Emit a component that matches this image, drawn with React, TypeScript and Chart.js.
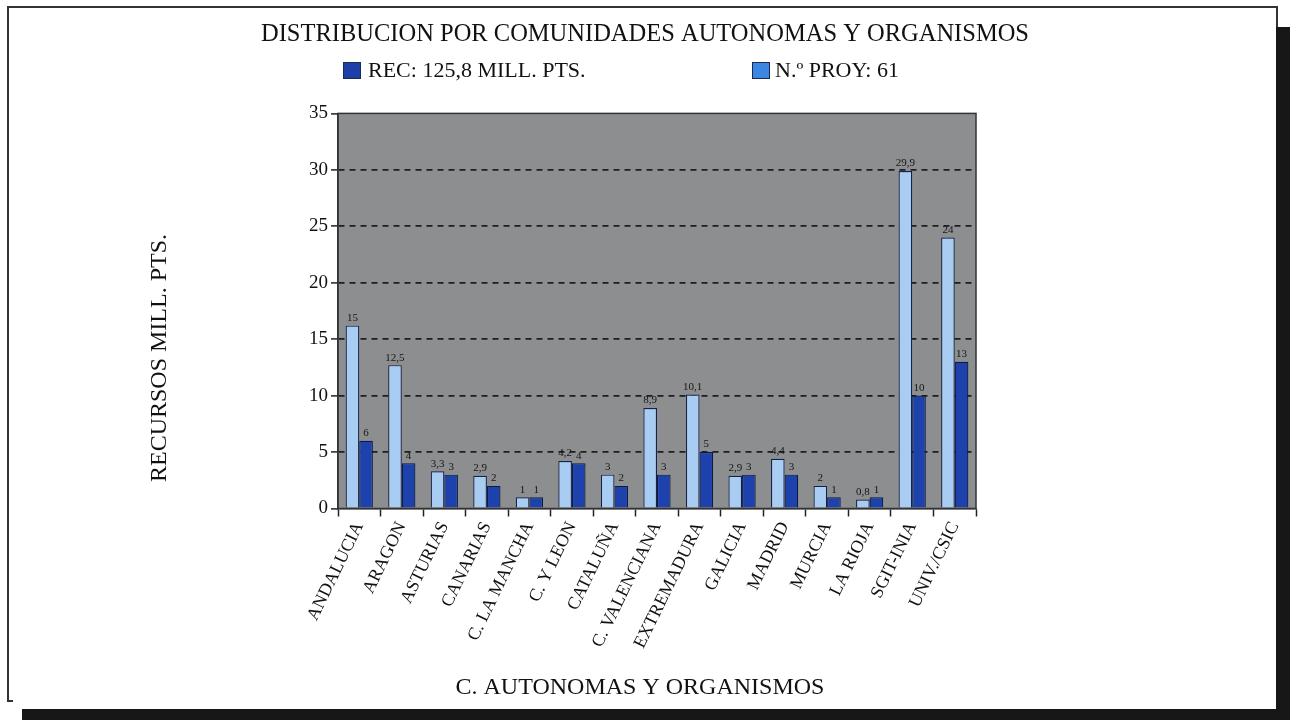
import React, { useEffect, useRef } from "react";
import { Chart, registerables } from "chart.js";

Chart.register(...registerables);

const TITLE = "DISTRIBUCION POR COMUNIDADES AUTONOMAS Y ORGANISMOS";
const Y_TITLE = "RECURSOS MILL. PTS.";
const X_TITLE = "C. AUTONOMAS Y ORGANISMOS";

const CATEGORIES = [
  "ANDALUCIA",
  "ARAGON",
  "ASTURIAS",
  "CANARIAS",
  "C. LA MANCHA",
  "C. Y LEON",
  "CATALUÑA",
  "C. VALENCIANA",
  "EXTREMADURA",
  "GALICIA",
  "MADRID",
  "MURCIA",
  "LA RIOJA",
  "SGIT-INIA",
  "UNIV./CSIC",
];

// light bars (left of each pair)
const PROY_LABEL = "N.º PROY: 61";
const PROY_VALUES = [16.2, 12.7, 3.3, 2.9, 1, 4.2, 3, 8.9, 10.1, 2.9, 4.4, 2, 0.8, 29.9, 24];
const PROY_TEXT = ["15", "12,5", "3,3", "2,9", "1", "4,2", "3", "8,9", "10,1", "2,9", "4,4", "2", "0,8", "29,9", "24"];

// dark bars (right of each pair)
const REC_LABEL = "REC: 125,8 MILL. PTS.";
const REC_VALUES = [6, 4, 3, 2, 1, 4, 2, 3, 5, 3, 3, 1, 1, 10, 13];
const REC_TEXT = ["6", "4", "3", "2", "1", "4", "2", "3", "5", "3", "3", "1", "1", "10", "13"];

const Y_TICKS = [0, 5, 10, 15, 20, 25, 30, 35];

const SERIF = "'Liberation Serif', 'DejaVu Serif', serif";

const plotBg = {
  id: "plotBg",
  beforeDraw(chart: any) {
    const { ctx, chartArea: a } = chart;
    ctx.save();
    ctx.fillStyle = "#8c8e8f";
    ctx.fillRect(a.left, a.top, a.right - a.left, a.bottom - a.top);
    ctx.restore();
  },
  afterDraw(chart: any) {
    const { ctx, chartArea: a } = chart;
    ctx.save();
    ctx.strokeStyle = "#333";
    ctx.lineWidth = 1.5;
    ctx.strokeRect(a.left, a.top, a.right - a.left, a.bottom - a.top);
    ctx.restore();
  },
};

const valueLabels = {
  id: "valueLabels",
  afterDatasetsDraw(chart: any) {
    const { ctx } = chart;
    const texts = [PROY_TEXT, REC_TEXT];
    ctx.save();
    ctx.font = `11px ${SERIF}`;
    ctx.fillStyle = "#161616";
    ctx.textAlign = "center";
    ctx.textBaseline = "bottom";
    chart.data.datasets.forEach((ds: any, di: number) => {
      const meta = chart.getDatasetMeta(di);
      meta.data.forEach((bar: any, i: number) => {
        ctx.fillText(texts[di][i], bar.x, bar.y - 2);
      });
    });
    ctx.restore();
  },
};

const customLegend = {
  id: "customLegend",
  afterDraw(chart: any) {
    const { ctx } = chart;
    const items = [
      { ds: 1, swatch: "#1d40a8", x: 343, tx: 368 },
      { ds: 0, swatch: "#3b86e0", x: 752, tx: 775 },
    ];
    ctx.save();
    ctx.font = `22px ${SERIF}`;
    ctx.textBaseline = "middle";
    ctx.textAlign = "left";
    items.forEach((it) => {
      ctx.fillStyle = it.swatch;
      ctx.fillRect(it.x, 62, 18, 17);
      ctx.strokeStyle = "#1a2a55";
      ctx.lineWidth = 1;
      ctx.strokeRect(it.x + 0.5, 62.5, 17, 16);
      ctx.fillStyle = "#111";
      ctx.fillText(chart.data.datasets[it.ds].label, it.tx, 71);
    });
    ctx.restore();
  },
};

const axisTitles = {
  id: "axisTitles",
  afterDraw(chart: any) {
    const { ctx } = chart;
    ctx.save();
    ctx.font = `24px ${SERIF}`;
    ctx.fillStyle = "#111";
    ctx.textAlign = "center";
    ctx.textBaseline = "middle";
    ctx.fillText(X_TITLE, 640, 688);
    ctx.translate(160, 358);
    ctx.rotate(-Math.PI / 2);
    ctx.fillText(Y_TITLE, 0, 0);
    ctx.restore();
  },
};

export default function App() {
  const ref = useRef<HTMLCanvasElement | null>(null);

  useEffect(() => {
    document.body.style.margin = "0";
    const canvas = ref.current!;
    const chart = new Chart(canvas, {
      type: "bar",
      data: {
        labels: CATEGORIES,
        datasets: [
          {
            label: PROY_LABEL,
            data: PROY_VALUES,
            backgroundColor: "#a9ccf2",
            borderColor: "#14224a",
            borderWidth: 1.2,
            categoryPercentage: 0.64,
            barPercentage: 1,
          },
          {
            label: REC_LABEL,
            data: REC_VALUES,
            backgroundColor: "#1d42ad",
            borderColor: "#0e1a40",
            borderWidth: 1.2,
            categoryPercentage: 0.64,
            barPercentage: 1,
          },
        ],
      },
      options: {
        responsive: false,
        animation: false,
        layout: { padding: { left: 0, right: 0, top: 0, bottom: 0 } },
        plugins: {
          legend: { display: false },
          tooltip: { enabled: false },
          title: {
            display: true,
            text: TITLE,
            color: "#111",
            font: { family: SERIF, size: 24.5, weight: "normal" },
            padding: { top: 20, bottom: 64 },
          },
        },
        scales: {
          x: {
            grid: {
              display: true,
              drawOnChartArea: false,
              drawTicks: true,
              tickLength: 8,
              tickColor: "#222",
              tickWidth: 1.5,
              offset: true,
            },
            border: { display: true, color: "#333", width: 1.5 },
            ticks: {
              autoSkip: false,
              maxRotation: 64,
              minRotation: 64,
              color: "#111",
              font: { family: SERIF, size: 18 },
              padding: 2,
            },
            afterFit(scale: any) {
              scale.height = 720 - 508.5;
            },
          },
          y: {
            min: 0,
            max: 35,
            afterBuildTicks(scale: any) {
              scale.ticks = Y_TICKS.map((v) => ({ value: v }));
            },
            grid: {
              color: (c: any) =>
                c.tick && (c.tick.value === 0 || c.tick.value === 35) ? "rgba(0,0,0,0)" : "#1e1e1e",
              lineWidth: 1.8,
              tickColor: "#222",
              tickWidth: 1.5,
              tickLength: 7,
            },
            border: { display: true, color: "#333", width: 1.5, dash: [6, 5] },
            ticks: {
              color: "#111",
              font: { family: SERIF, size: 19 },
              padding: 3,
            },
            title: { display: false },
            afterFit(scale: any) {
              scale.width = 338;
            },
          },
          yRight: {
            position: "right",
            display: true,
            grid: { display: false },
            border: { display: false },
            ticks: { display: false },
            afterFit(scale: any) {
              scale.width = 1290 - 976;
            },
          },
        },
      },
      plugins: [plotBg, valueLabels, customLegend, axisTitles],
    });
    return () => chart.destroy();
  }, []);

  const frame = (s: React.CSSProperties) => (
    <div style={{ position: "absolute", ...s }} />
  );

  return (
    <div style={{ position: "fixed", left: 0, top: 0, width: 1290, height: 720, background: "#fff", overflow: "hidden" }}>
      {frame({ left: 8, top: 6, width: 1270, height: 2, background: "#333" })}
      {frame({ left: 7, top: 6, width: 2, height: 696, background: "#333" })}
      {frame({ left: 7, top: 700, width: 6, height: 2, background: "#333" })}
      {frame({ left: 1276, top: 6, width: 2, height: 22, background: "#333" })}
      {frame({ left: 1276, top: 27, width: 14, height: 693, background: "#171717" })}
      {frame({ left: 22, top: 709, width: 1268, height: 11, background: "#171717" })}
      <canvas
        ref={ref}
        width={1290}
        height={720}
        style={{ position: "absolute", left: 0, top: 0, width: 1290, height: 720 }}
      />
    </div>
  );
}
